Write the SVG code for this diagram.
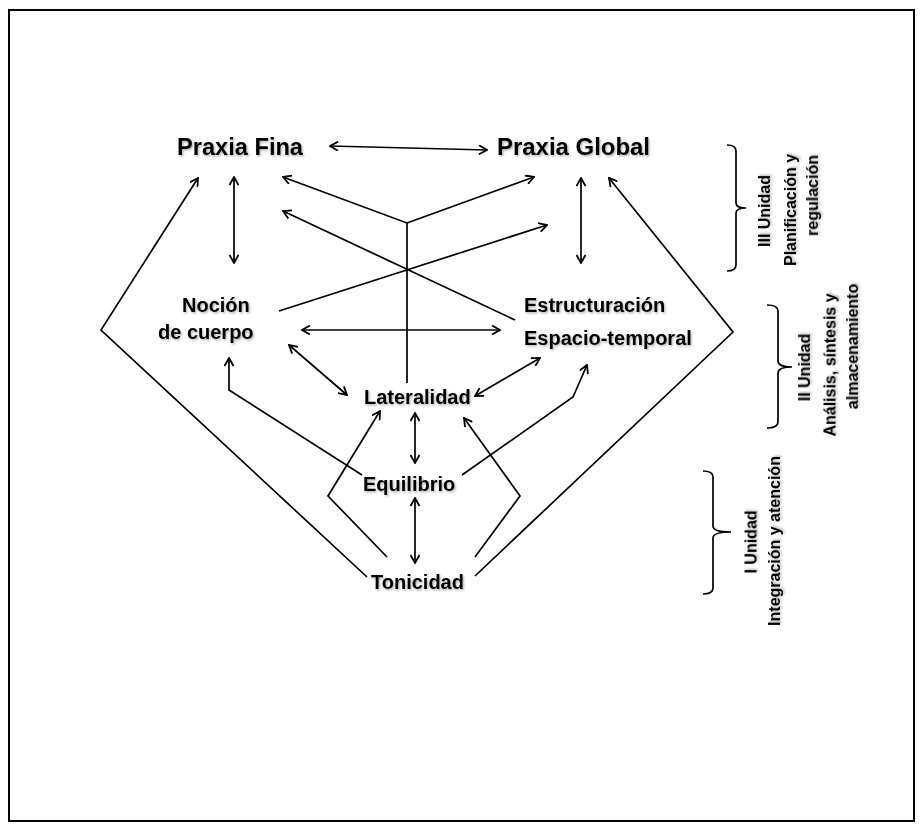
<svg xmlns="http://www.w3.org/2000/svg" width="923" height="831" viewBox="0 0 923 831">
<style>
  .lbl { font-family: "Liberation Sans", Arial, sans-serif; font-weight: bold; font-size: 20px; fill: #000; filter: url(#sh); }
  .big { font-size: 23px; }
  .side { font-family: "Liberation Sans", Arial, sans-serif; font-weight: bold; font-size: 16px; fill: #000; text-anchor: middle; filter: url(#sh); }
  .c { fill: none; stroke: #000; stroke-width: 1.7; stroke-linejoin: miter; }
  .a { marker-end: url(#ah); }
  .d { marker-start: url(#ah); marker-end: url(#ah); }
  .br { fill: none; stroke: #000; stroke-width: 1.7; }
</style>
<defs>
  <marker id="ah" viewBox="0 0 10 10" refX="9" refY="5" markerWidth="10" markerHeight="10" markerUnits="userSpaceOnUse" orient="auto-start-reverse">
    <path d="M1,0.5 L9,5 L1,9.5" fill="none" stroke="#000" stroke-width="1.8"/>
  </marker>
  <filter id="sh" x="-10%" y="-30%" width="130%" height="170%">
    <feDropShadow dx="1.2" dy="1.5" stdDeviation="1" flood-color="#000" flood-opacity="0.3"/>
  </filter>
</defs>
<rect x="9" y="10" width="905" height="811" fill="#fff" stroke="#000" stroke-width="2"/>

<g id="connectors">
  <path class="c d" d="M330,146 L487,150"/>
  <path class="c d" d="M234,177 L234,263"/>
  <path class="c d" d="M581,178 L581,263"/>
  <path class="c a" d="M407,383 L407,223 L283,177"/>
  <path class="c a" d="M407,223 L534,177"/>
  <path class="c a" d="M515,320 L283,211"/>
  <path class="c a" d="M279,311 L547,225"/>
  <path class="c a" d="M367,577 L101,330 L198,178"/>
  <path class="c a" d="M475,576 L733,332 L609,178"/>
  <path class="c d" d="M302,330 L500,330"/>
  <path class="c d" d="M289,345 L347,395"/>
  <path class="c d" d="M475,396 L540,358"/>
  <path class="c a" d="M362,475 L229,390 L229,358"/>
  <path class="c a" d="M462,475 L573,397 L587,365"/>
  <path class="c d" d="M415,413 L415,463"/>
  <path class="c d" d="M415,498 L415,563"/>
  <path class="c a" d="M387,557 L328,496 L380,411"/>
  <path class="c a" d="M475,557 L520,496 L464,418"/>
</g>

<g id="praxia-fina"><text class="lbl big" x="177" y="155" textLength="126" lengthAdjust="spacingAndGlyphs">Praxia Fina</text></g>
<g id="praxia-global"><text class="lbl big" x="497" y="155" textLength="153" lengthAdjust="spacingAndGlyphs">Praxia Global</text></g>
<g id="nocion-cuerpo">
  <text class="lbl" x="182" y="312">Noción</text>
  <text class="lbl" x="158" y="339">de cuerpo</text>
</g>
<g id="estructuracion">
  <text class="lbl" x="524" y="312">Estructuración</text>
  <text class="lbl" x="524" y="345">Espacio-temporal</text>
</g>
<g id="lateralidad"><text class="lbl" x="364" y="404">Lateralidad</text></g>
<g id="equilibrio"><text class="lbl" x="363" y="491">Equilibrio</text></g>
<g id="tonicidad"><text class="lbl" x="371" y="589">Tonicidad</text></g>

<g id="unidad-3">
  <path class="br" d="M727,145 Q736,145 736,151 V203 Q736,208 746,208 Q736,208 736,213 V265 Q736,271 727,271"/>
  <text class="side" transform="translate(770,211) rotate(-90)">III Unidad</text>
  <text class="side" transform="translate(796,210) rotate(-90)">Planificación y</text>
  <text class="side" transform="translate(818,195.5) rotate(-90)">regulación</text>
</g>
<g id="unidad-2">
  <path class="br" d="M767,305 Q778,305 778,311 V361 Q778,367 792,367 Q778,367 778,373 V422 Q778,428 767,428"/>
  <text class="side" transform="translate(810,367.5) rotate(-90)">II Unidad</text>
  <text class="side" transform="translate(835.5,365) rotate(-90)">Análisis, síntesis y</text>
  <text class="side" transform="translate(858,346.5) rotate(-90)">almacenamiento</text>
</g>
<g id="unidad-1">
  <path class="br" d="M703,471 Q713,471 713,477 V526 Q713,532 731,532 Q713,532 713,538 V588 Q713,594 703,594"/>
  <text class="side" transform="translate(756.5,542) rotate(-90)">I Unidad</text>
  <text class="side" transform="translate(780,541) rotate(-90)">Integración y atención</text>
</g>
</svg>
